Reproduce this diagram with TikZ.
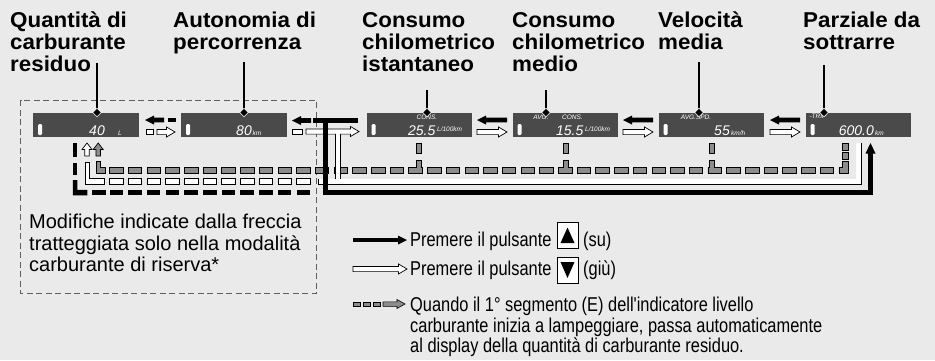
\documentclass[tikz,border=0pt]{standalone}
\usepackage{fontspec}
\setmainfont{Liberation Sans}
\newfontfamily\ttlfont[FakeStretch=1.04]{Liberation Sans}
\newfontfamily\legfont[FakeStretch=0.82]{Liberation Sans}
\definecolor{bg}{RGB}{234,234,234}
\definecolor{lcd}{RGB}{74,74,74}
\definecolor{gfill}{RGB}{140,140,140}
\definecolor{bord}{RGB}{95,95,95}
\newcommand{\BArrL}[3]{\fill[black] (#1,#3) -- (#1+9,#3-4.5) -- (#1+9,#3-2.3) -- (#2,#3-2.3) -- (#2,#3+2.3) -- (#1+9,#3+2.3) -- (#1+9,#3+4.5) -- cycle;}
\newcommand{\WArrR}[3]{\filldraw[fill=white,draw=black,line width=0.7pt] (#1,#3-2.6) -- (#2-8.5,#3-2.6) -- (#2-8.5,#3-5) -- (#2,#3) -- (#2-8.5,#3+5) -- (#2-8.5,#3+2.6) -- (#1,#3+2.6) -- cycle;}
\newcommand{\UpArr}[4]{\filldraw[fill=#1,draw=black,line width=0.7pt] (#2,#3) -- (#2+5,#3+6.5) -- (#2+2.3,#3+6.5) -- (#2+2.3,#4) -- (#2-2.3,#4) -- (#2-2.3,#3+6.5) -- (#2-5,#3+6.5) -- cycle;}
\begin{document}
\begin{tikzpicture}[x=1pt,y=-1pt,
  ttl/.style={font=\ttlfont\bfseries\fontsize{21.5}{21.5}\selectfont, anchor=base west, inner sep=0pt, text=black},
  lcdbox/.style={fill=lcd, minimum width=105.5pt, minimum height=24pt, inner sep=0pt},
  big/.style={font=\itshape\fontsize{14}{14}\selectfont, text=white, inner sep=0pt},
  tiny/.style={font=\itshape\fontsize{6.5}{6.5}\selectfont, text=white, inner sep=0pt},
  note/.style={font=\fontsize{20}{20}\selectfont, anchor=base west, inner sep=0pt},
  leg/.style={font=\legfont\fontsize{20}{20}\selectfont, anchor=base west, inner sep=0pt},
  gdash/.style={fill=gfill, draw=black, line width=0.6pt},
  wdash/.style={fill=white, draw=black, line width=0.6pt},
  ptr/.style={line width=2.5pt}
]
\useasboundingbox (0,0) rectangle (935,360);
\fill[bg] (0,0) rectangle (935,360);

% dashed region
\draw[bord, line width=0.9pt, dash pattern=on 6pt off 3.5pt] (20.7,100) rectangle (316.7,293.3);

% titles
\node[ttl] (t1a) at (10,27.3) {Quantità di};
\node[ttl] (t1b) at (10,49.7) {carburante};
\node[ttl] (t1c) at (10,71.5) {residuo};
\node[ttl] (t2a) at (173,27.3) {Autonomia di};
\node[ttl] (t2b) at (173,49.7) {percorrenza};
\node[ttl] (t3a) at (362,27.3) {Consumo};
\node[ttl] (t3b) at (362,49.7) {chilometrico};
\node[ttl] (t3c) at (362,71.5) {istantaneo};
\node[ttl] (t4a) at (512,27.3) {Consumo};
\node[ttl] (t4b) at (512,49.7) {chilometrico};
\node[ttl] (t4c) at (512,71.5) {medio};
\node[ttl] (t5a) at (658,27.3) {Velocità};
\node[ttl] (t5b) at (658,49.7) {media};
\node[ttl] (t6a) at (803,27.3) {Parziale da};
\node[ttl] (t6b) at (803,49.7) {sottrarre};

% displays
\node[lcdbox] (b1) at (86,125) {};
\node[lcdbox] (b2) at (234,125) {};
\node[lcdbox] (b3) at (419.5,125) {};
\node[lcdbox] (b4) at (565.5,125) {};
\node[lcdbox] (b5) at (711.5,125) {};
\node[lcdbox] (b6) at (858.5,125) {};
\foreach \b in {b1,b2,b3,b4,b5,b6}{
  \fill[white, rounded corners=1.2pt] ([xshift=5pt,yshift=-10pt]\b.west) rectangle ++(4,-11);
}
\node[big, anchor=base east] (v1) at (105,135) {40};
\node[tiny, anchor=base west] (u1) at (118,135) {L};
\node[big, anchor=base east] (v2) at (252,135) {80};
\node[tiny, anchor=base west] (u2) at (252.5,135) {km};
\node[tiny, anchor=base] (c3) at (427,119) {CONS.};
\node[big, anchor=base east] (v3) at (435.5,135) {25.5};
\node[tiny, anchor=base west] (u3) at (437,131.5) {L/100km};
\node[tiny, anchor=base] (a4) at (541,119) {AVG.};
\node[tiny, anchor=base] (c4) at (572.5,119) {CONS.};
\node[big, anchor=base east] (v4) at (583.5,135) {15.5};
\node[tiny, anchor=base west] (u4) at (585,131.5) {L/100km};
\node[tiny, anchor=base] (a5) at (696,119) {AVG.SPD.};
\node[big, anchor=base east] (v5) at (730,135) {55};
\node[tiny, anchor=base west] (u5) at (731,135) {km/h};
\node[tiny, anchor=base] (r6) at (818,118.5) {-TRIP};
\node[big, anchor=base east] (v6) at (874,135) {600.0};
\node[tiny, anchor=base west] (u6) at (875,135) {km};

% pointers
\foreach \x/\y in {97/63,244/62,427/90,546/90,699/62,824/65}{
  \draw[ptr] (\x,\y) -- (\x,112.5);
  \filldraw[fill=black, draw=white, line width=0.6pt] (\x,108.3) -- (\x+4.2,112.5) -- (\x,116.7) -- (\x-4.2,112.5) -- cycle;
}

% ---------- gray (automatic) row ----------
\foreach \k in {0,...,15}{\filldraw[gdash] ({109.5+18.7*\k},167.7) rectangle ++(13.5,5.5);}
\foreach \k in {17,...,23}{\filldraw[gdash] ({109.5+18.7*\k},167.7) rectangle ++(13.5,5.5);}
\foreach \k in {25,...,31}{\filldraw[gdash] ({109.5+18.7*\k},167.7) rectangle ++(13.5,5.5);}
\foreach \k in {33,...,38}{\filldraw[gdash] ({109.5+18.7*\k},167.7) rectangle ++(13.5,5.5);}
\foreach \c/\k in {419/16,565.5/24,711.5/32}{
  \pgfmathsetmacro{\xk}{109.5+18.7*\k}
  \filldraw[gdash] (\c-2.5,143) rectangle (\c+2.5,153.5);
  \filldraw[gdash] (\xk,173.2) -- (\xk,167.7) -- (\c-2.5,167.7) -- (\c-2.5,160) -- (\c+2.5,160) -- (\c+2.5,167.7) -- (\xk+13.5,167.7) -- (\xk+13.5,173.2) -- cycle;
}
\filldraw[gdash] (838.8,173.2) -- (838.8,167.7) -- (842.3,167.7) -- (842.3,161.5) -- (847.8,161.5) -- (847.8,173.2) -- cycle;
\filldraw[gdash] (842.3,152) rectangle (847.8,159.5);
\filldraw[gdash] (842.3,143) rectangle (847.8,150);
\filldraw[gdash] (96,161.5) -- (100.5,161.5) -- (100.5,167.7) -- (105.5,167.7) -- (105.5,173.2) -- (96,173.2) -- cycle;
\UpArr{gfill}{98.2}{143}{156}

% ---------- white (down button) ----------
\foreach \k in {0,...,10}{\filldraw[wdash] ({109.5+18.7*\k},178.5) rectangle ++(13.5,6);}
\filldraw[wdash] (84.8,162) -- (89.3,162) -- (89.3,178.5) -- (104.5,178.5) -- (104.5,184.5) -- (84.8,184.5) -- cycle;
\UpArr{white}{87}{143}{156}
\WArrR{306}{359}{131.5}
\filldraw[wdash] (292,128.9) rectangle (302,134.1);
\draw[line width=6pt, line join=miter] (858.5,142.5) -- (858.5,181.5) -- (318,181.5);
\draw[line width=6pt] (337.8,181.5) -- (337.8,134.1);
\draw[line width=4.6pt, white, line join=miter, shorten <=0.7pt, shorten >=0.7pt] (858.5,142.5) -- (858.5,181.5) -- (318,181.5);
\draw[line width=4.6pt, white] (337.8,181.5) -- (337.8,131.5);

% ---------- black (up button) ----------
\foreach \y/\h in {143/14,163/12}{\fill (72.8,\y) rectangle ++(4.5,\h);}
\fill (72.8,180) -- (77.3,180) -- (77.3,189.8) -- (87.3,189.8) -- (87.3,195.3) -- (72.8,195.3) -- cycle;
\fill (92,189.8) rectangle (105.5,195.3);
\foreach \k in {0,...,10}{\fill ({109.5+18.7*\k},189.8) rectangle ++(13.5,5.5);}
\fill (313,117.7) rectangle (358,123.3);
\draw[line width=5.5pt, line join=miter] (325.7,117.7) -- (325.7,192.5) -- (870.5,192.5) -- (870.5,152);
\fill (870.5,143) -- (875.5,153.5) -- (865.5,153.5) -- cycle;
\BArrL{292}{311}{120.5}

% arrows between displays
\BArrL{145}{164}{120}
\fill (168,117.7) rectangle (176,122.3);
\filldraw[wdash] (146,129.4) rectangle (153.3,134.6);
\WArrR{157}{175}{132}
\BArrL{477}{507}{120}
\WArrR{477}{507}{132}
\BArrL{623}{653}{120}
\WArrR{623}{653}{132}
\BArrL{770}{800}{120}
\WArrR{770}{800}{132}

% note in dashed box
\node[note] (n1) at (29,228.3) {Modifiche indicate dalla freccia};
\node[note] (n2) at (29,250) {tratteggiata solo nella modalità};
\node[note] (n3) at (29,271.7) {carburante di riserva*};

% legend
\fill (353,238.2) rectangle (398,241.8);
\fill (407,240) -- (398,244.5) -- (398,235.5) -- cycle;
\WArrR{353}{407}{269}
\foreach \x in {353,363,373}{\filldraw[gdash] (\x,301.8) rectangle ++(7.5,4.5);}
\filldraw[gdash] (383,301.8) -- (397,301.8) -- (397,299.5) -- (405,304) -- (397,308.5) -- (397,306.3) -- (383,306.3) -- cycle;

\node[leg] (l1) at (410,246.7) {Premere il pulsante};
\node[draw=black, fill=white, line width=0.9pt, minimum width=21pt, minimum height=26pt, inner sep=0pt] (kup) at (567.5,235) {};
\fill (567.5,227.5) -- (574.5,243) -- (560.5,243) -- cycle;
\node[leg] (l1b) at (583,246.7) {(su)};
\node[leg] (l2) at (410,275.5) {Premere il pulsante};
\node[draw=black, fill=white, line width=0.9pt, minimum width=21pt, minimum height=26pt, inner sep=0pt] (kdn) at (567.5,270) {};
\fill (560.5,262) -- (574.5,262) -- (567.5,278) -- cycle;
\node[leg] (l2b) at (583,275.5) {(giù)};
\node[leg] (l3) at (410,311.7) {Quando il 1° segmento (E) dell'indicatore livello};
\node[leg] (l4) at (410,332.2) {carburante inizia a lampeggiare, passa automaticamente};
\node[leg] (l5) at (410,352.7) {al display della quantità di carburante residuo.};
\end{tikzpicture}
\end{document}
